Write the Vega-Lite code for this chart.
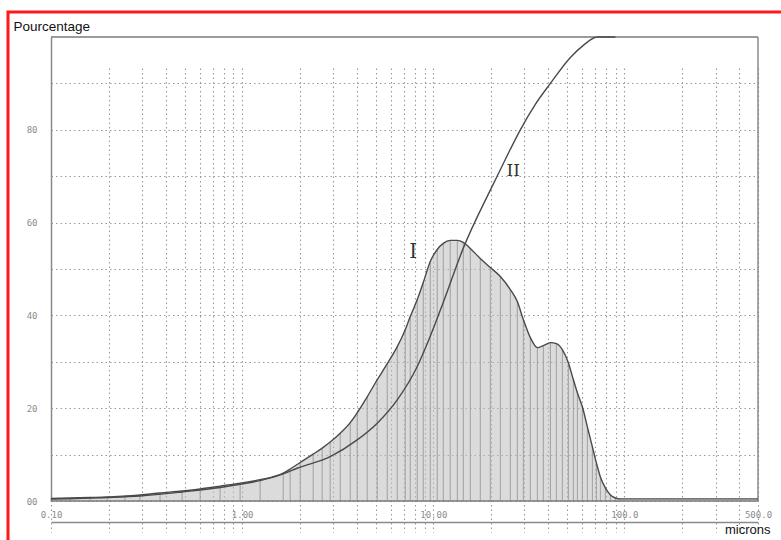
{
  "$schema": "https://vega.github.io/schema/vega-lite/v6.json",
  "autosize": {"type": "none"},
  "padding": {"left": 8, "top": 12, "right": 0, "bottom": 0},
  "width": 790,
  "height": 545,
  "background": "white",
  "config": {"view": {"stroke": "#ff1a1a", "strokeWidth": 3, "fill": "white"}},
  "datasets": {
    "curveI": [
      {"x": 0.1, "y": 0.54}, {"x": 0.126, "y": 0.65}, {"x": 0.16, "y": 0.76}, {"x": 0.197, "y": 0.86},
      {"x": 0.244, "y": 1.08}, {"x": 0.292, "y": 1.3}, {"x": 0.372, "y": 1.73}, {"x": 0.485, "y": 2.16},
      {"x": 0.603, "y": 2.59}, {"x": 0.767, "y": 3.2}, {"x": 0.976, "y": 3.85}, {"x": 1.242, "y": 4.6},
      {"x": 1.64, "y": 6.0}, {"x": 1.784, "y": 6.9}, {"x": 2.013, "y": 8.3}, {"x": 2.353, "y": 10.1},
      {"x": 2.623, "y": 11.4}, {"x": 2.888, "y": 12.7}, {"x": 3.26, "y": 14.6}, {"x": 3.677, "y": 16.9},
      {"x": 4.0, "y": 19.01}, {"x": 4.512, "y": 22.46}, {"x": 5.091, "y": 26.13}, {"x": 5.744, "y": 29.59},
      {"x": 6.48, "y": 33.26}, {"x": 7.135, "y": 36.93}, {"x": 7.578, "y": 39.74}, {"x": 8.246, "y": 43.41},
      {"x": 8.863, "y": 47.08}, {"x": 9.645, "y": 51.62}, {"x": 10.49, "y": 54.21}, {"x": 11.28, "y": 55.51},
      {"x": 12.27, "y": 56.16}, {"x": 13.36, "y": 56.16}, {"x": 14.36, "y": 55.72}, {"x": 15.62, "y": 54.43},
      {"x": 17.62, "y": 52.27}, {"x": 19.88, "y": 50.32}, {"x": 22.43, "y": 48.38}, {"x": 25.3, "y": 45.57},
      {"x": 27.53, "y": 42.98}, {"x": 29.6, "y": 39.09}, {"x": 32.2, "y": 35.21}, {"x": 35.04, "y": 33.05},
      {"x": 37.66, "y": 33.48}, {"x": 41.0, "y": 34.13}, {"x": 44.06, "y": 33.91}, {"x": 47.35, "y": 32.61},
      {"x": 50.9, "y": 29.81}, {"x": 54.08, "y": 26.13}, {"x": 56.75, "y": 23.33}, {"x": 60.26, "y": 20.3},
      {"x": 64.01, "y": 15.98}, {"x": 68.0, "y": 11.66}, {"x": 71.35, "y": 8.21}, {"x": 74.87, "y": 5.18},
      {"x": 79.51, "y": 2.81}, {"x": 84.46, "y": 1.3}, {"x": 89.74, "y": 0.65}, {"x": 95.3, "y": 0.45},
      {"x": 500, "y": 0.45}
    ],
    "curveII": [
      {"x": 0.1, "y": 0.43}, {"x": 0.197, "y": 0.76}, {"x": 0.292, "y": 1.08}, {"x": 0.485, "y": 1.94},
      {"x": 0.767, "y": 2.9}, {"x": 0.976, "y": 3.6}, {"x": 1.242, "y": 4.4}, {"x": 1.64, "y": 5.83},
      {"x": 1.941, "y": 7.06}, {"x": 2.888, "y": 9.57}, {"x": 4.0, "y": 13.17}, {"x": 5.091, "y": 16.78},
      {"x": 6.48, "y": 21.81}, {"x": 8.246, "y": 29.0}, {"x": 9.645, "y": 35.5}, {"x": 11.28, "y": 42.8},
      {"x": 14.36, "y": 54.5}, {"x": 19.88, "y": 67.0}, {"x": 22.43, "y": 71.4}, {"x": 25.3, "y": 75.8},
      {"x": 28.54, "y": 80.0}, {"x": 34.2, "y": 85.5}, {"x": 41.0, "y": 90.0}, {"x": 52.17, "y": 95.6},
      {"x": 60.99, "y": 98.2}, {"x": 72.21, "y": 100}, {"x": 89.74, "y": 100}
    ],
    "frame": [
      {"x": 0.1, "x2": 500, "y": 100, "y2": 100},
      {"x": 500, "x2": 500, "y": 0, "y2": 100},
      {"x": 0.1, "x2": 500, "y": 0, "y2": 0}
    ],
    "labels": [
      {"x": 7.86, "y": 53.6, "label": "I"},
      {"x": 26.2, "y": 71.1, "label": "II"}
    ]
  },
  "encoding": {
    "x": {
      "field": "x", "type": "quantitative",
      "scale": {"type": "log", "domain": [0.1, 500], "range": [43, 750], "nice": false},
      "axis": {
        "orient": "bottom", "offset": -35,
        "values": [0.1, 0.2, 0.3, 0.4, 0.5, 0.6, 0.7, 0.8, 0.9, 1, 2, 3, 4, 5, 6, 7, 8, 9, 10, 20, 30, 40, 50, 60, 70, 80, 90, 100, 200, 300, 400, 500],
        "labelExpr": "datum.value == 0.1 ? '0.10' : datum.value == 1 ? '1.00' : datum.value == 10 ? '10.00' : datum.value == 100 ? '100.0' : datum.value == 500 ? '500.0' : ''",
        "title": "microns", "titleX": 762, "titleY": 11, "titleAlign": "right", "titleBaseline": "alphabetic",
        "titleFont": "Liberation Sans", "titleFontSize": 13, "titleFontWeight": "normal", "titleColor": "#111111",
        "ticks": false, "tickSize": 0, "labelPadding": -12, "labelBaseline": "top",
        "labelFont": "DejaVu Sans Mono", "labelFontSize": 9, "labelColor": "#8c8c8c",
        "labelOverlap": false, "labelFlush": false, "labelBound": false,
        "domainColor": "#8a8a8a", "domainWidth": 1.3,
        "grid": true, "gridColor": "#9a9a9a", "gridDash": [1.5, 3], "gridWidth": 1.1
      }
    },
    "y": {
      "field": "y", "type": "quantitative",
      "scale": {"domain": [0, 100], "range": [489, 25], "nice": false, "zero": false},
      "axis": {
        "orient": "left", "offset": -43,
        "values": [0, 10, 20, 30, 40, 50, 60, 70, 80, 90],
        "labelExpr": "datum.value == 0 ? '00' : (datum.value % 20 == 0 ? datum.label : '')",
        "title": "Pourcentage", "titleAngle": 0, "titleX": -38, "titleY": 18, "titleAlign": "left", "titleBaseline": "alphabetic",
        "titleFont": "Liberation Sans", "titleFontSize": 13.5, "titleFontWeight": "normal", "titleColor": "#111111",
        "ticks": false, "tickSize": 0, "labelPadding": 14,
        "labelFont": "DejaVu Sans Mono", "labelFontSize": 9, "labelColor": "#8c8c8c",
        "labelOverlap": false, "labelFlush": false,
        "domainColor": "#8a8a8a", "domainWidth": 1.5,
        "grid": true, "gridColor": "#9a9a9a", "gridDash": [1.5, 3], "gridWidth": 1.1
      }
    }
  },
  "layer": [
    {
      "data": {"name": "curveI"},
      "mark": {"type": "area", "interpolate": "monotone", "fill": "#bdbdbd", "opacity": 0.55}
    },
    {
      "data": {"name": "curveI"},
      "mark": {"type": "rule", "stroke": "#9a9a9a", "strokeWidth": 0.9},
      "encoding": {"y2": {"datum": 0}}
    },
    {
      "data": {"name": "frame"},
      "mark": {"type": "rule", "stroke": "#7a7a7a", "strokeWidth": 1.3},
      "encoding": {"x2": {"field": "x2"}, "y2": {"field": "y2"}}
    },
    {
      "data": {"name": "curveI"},
      "mark": {"type": "line", "interpolate": "monotone", "stroke": "#4a4a4a", "strokeWidth": 1.4}
    },
    {
      "data": {"name": "curveII"},
      "mark": {"type": "line", "interpolate": "monotone", "stroke": "#4a4a4a", "strokeWidth": 1.4}
    },
    {
      "data": {"name": "labels"},
      "mark": {"type": "text", "font": "DejaVu Serif", "color": "#333333", "align": "center", "baseline": "middle"},
      "encoding": {
        "text": {"field": "label"},
        "size": {"condition": {"test": "datum.label == 'I'", "value": 20}, "value": 17}
      }
    }
  ]
}
